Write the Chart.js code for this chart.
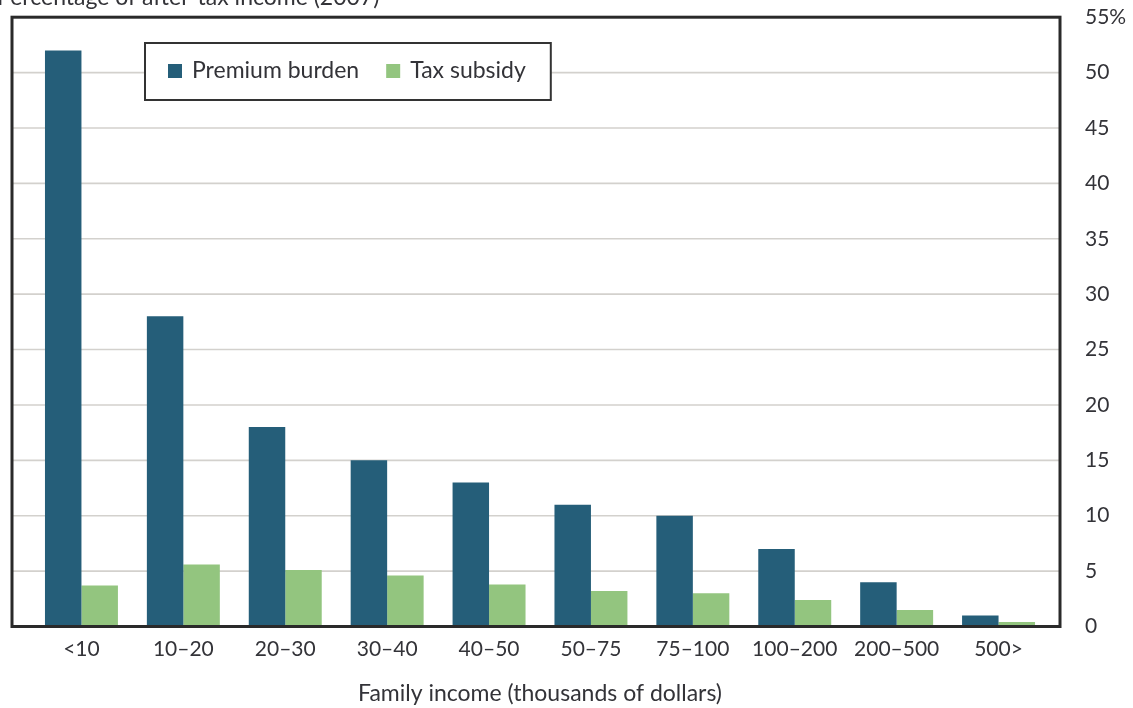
<!DOCTYPE html>
<html>
<head>
<meta charset="utf-8">
<script src="https://cdn.jsdelivr.net/npm/chart.js@4.4.1/dist/chart.umd.min.js"></script>
<style>
  html, body { margin: 0; padding: 0; background: #fff; overflow: hidden; }
  #wrap { position: absolute; left: 0; top: -20px; width: 1133px; height: 728px; }
</style>
</head>
<body>
<div id="wrap"><canvas id="chart" width="1133" height="728"></canvas></div>
<script>
// data
const incomeGroups = ['<10', '10–20', '20–30', '30–40', '40–50', '50–75', '75–100', '100–200', '200–500', '500>'];
const premiumBurden = [52, 28, 18, 15, 13, 11, 10, 7, 4, 1];
const taxSubsidy = [3.7, 5.6, 5.1, 4.6, 3.8, 3.2, 3.0, 2.4, 1.5, 0.4];
const yMax = 55;
const yStep = 5;

const TEXT = '#333338';
const FONT = 'Lato, "DejaVu Sans", sans-serif';

// frame, gridlines, clipped top title and boxed legend
const decor = {
  id: 'decor',
  beforeDatasetsDraw(chart) {
    const ctx = chart.ctx;
    const y = chart.scales.y;
    ctx.save();
    ctx.strokeStyle = '#d3d1cd';
    ctx.lineWidth = 1.6;
    y.ticks.forEach(t => {
      if (t.value === y.min || t.value === y.max) return;
      const py = y.getPixelForValue(t.value);
      ctx.beginPath();
      ctx.moveTo(12, py);
      ctx.lineTo(1060, py);
      ctx.stroke();
    });
    ctx.restore();
  },
  afterDatasetsDraw(chart) {
    const ctx = chart.ctx;
    const y = chart.scales.y;
    const top = y.getPixelForValue(y.max);
    const bottom = y.getPixelForValue(y.min);
    ctx.save();

    // plot frame
    ctx.strokeStyle = '#2a2a2a';
    ctx.lineWidth = 3;
    ctx.strokeRect(12, top, 1048, bottom - top);

    // top title (mostly cut off by the page edge)
    ctx.fillStyle = TEXT;
    ctx.font = '23px ' + FONT;
    ctx.textAlign = 'left';
    ctx.textBaseline = 'alphabetic';
    ctx.fillText('Percentage of after-tax income (2007)', -3, 25);

    // legend
    ctx.font = '23px ' + FONT;
    const items = chart.data.datasets;
    const boxL = 145, boxT = 63, boxH = 57;
    const midY = 91;
    let x = boxL + 23;
    const pos = [];
    items.forEach(ds => {
      pos.push(x);
      x += 24 + ctx.measureText(ds.label).width + 27;
    });
    const boxW = x - 27 + 25 - boxL;
    ctx.fillStyle = '#fff';
    ctx.fillRect(boxL, boxT, boxW, boxH);
    ctx.strokeStyle = '#333';
    ctx.lineWidth = 2;
    ctx.strokeRect(boxL, boxT, boxW, boxH);
    ctx.textBaseline = 'middle';
    items.forEach((ds, i) => {
      ctx.fillStyle = ds.backgroundColor;
      ctx.fillRect(pos[i], midY - 7, 14, 14);
      ctx.fillStyle = TEXT;
      ctx.fillText(ds.label, pos[i] + 24, midY);
    });
    ctx.restore();
  }
};

new Chart(document.getElementById('chart'), {
  type: 'bar',
  data: {
    labels: incomeGroups,
    datasets: [
      {
        label: 'Premium burden',
        data: premiumBurden,
        backgroundColor: '#255e79',
        borderWidth: 0,
        categoryPercentage: 0.716,
        barPercentage: 1.0
      },
      {
        label: 'Tax subsidy',
        data: taxSubsidy,
        backgroundColor: '#93c57f',
        borderWidth: 0,
        categoryPercentage: 0.716,
        barPercentage: 1.0
      }
    ]
  },
  options: {
    responsive: false,
    animation: false,
    layout: { padding: { left: 30.5, top: 37.2, right: 0, bottom: 0 } },
    plugins: {
      legend: { display: false },
      tooltip: { enabled: false }
    },
    scales: {
      x: {
        grid: { display: false, drawTicks: false },
        border: { display: false },
        ticks: { color: TEXT, font: { family: FONT, size: 21 }, padding: 10, maxRotation: 0, autoSkip: false },
        title: {
          display: true,
          text: 'Family income (thousands of dollars)',
          color: TEXT,
          font: { family: FONT, size: 23 },
          padding: { top: 0, bottom: 1 }
        },
        afterFit: s => { s.height = 81.5; }
      },
      y: {
        position: 'right',
        min: 0,
        max: yMax,
        grid: { display: false, drawTicks: false },
        border: { display: false },
        ticks: {
          stepSize: yStep,
          padding: 35.5,
          color: TEXT,
          font: { family: FONT, size: 21 },
          callback: v => (v === yMax ? v + '%' : v)
        },
        afterFit: s => {
          s.width = 83.5;
          // keep the tick padding from pushing the plot area down
          s.paddingTop = 0;
          s.paddingBottom = 0;
        }
      }
    }
  },
  plugins: [decor]
});
</script>
</body>
</html>
